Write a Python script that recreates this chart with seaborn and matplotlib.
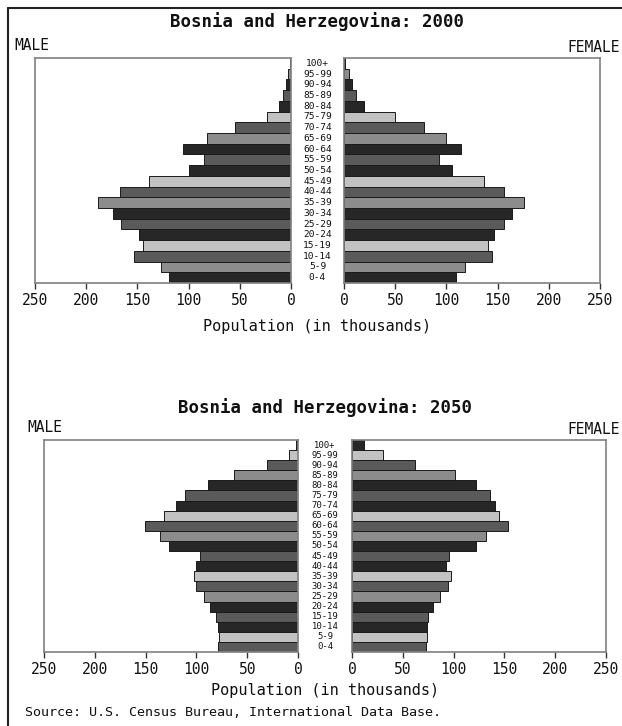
import numpy as np
import pandas as pd
import matplotlib
matplotlib.use("Agg")
import matplotlib.pyplot as plt
import seaborn as sns
from matplotlib import transforms
from matplotlib.lines import Line2D

# ---------------- data (thousands), ordered 0-4 -> 100+ ----------------
ages = ["0-4", "5-9", "10-14", "15-19", "20-24", "25-29", "30-34", "35-39",
        "40-44", "45-49", "50-54", "55-59", "60-64", "65-69", "70-74",
        "75-79", "80-84", "85-89", "90-94", "95-99", "100+"]

male_2000 = [119, 127, 153, 145, 148, 166, 174, 188, 167, 139, 100,
             85, 105, 82, 55, 23, 12, 8, 5, 2.5, 1]
female_2000 = [109, 118, 145, 141, 146, 156, 164, 176, 156, 137, 105,
               93, 114, 100, 78, 50, 20, 12, 7.5, 4.5, 1]

male_2050 = [79, 78, 79, 81, 87, 93, 100, 102, 100, 96, 127,
             136, 151, 132, 120, 111, 89, 63, 31, 9, 2]
female_2050 = [73, 74, 74, 75, 80, 87, 94, 97, 93, 95, 122,
               132, 154, 145, 141, 136, 122, 101, 62, 31, 12]

titles = ["Bosnia and Herzegovina: 2000", "Bosnia and Herzegovina: 2050"]
x_ticks = [0, 50, 100, 150, 200, 250]
x_label = "Population (in thousands)"
source = "Source: U.S. Census Bureau, International Data Base."

# ---------------- style ----------------
sns.set_theme(style="white")
plt.rcParams["font.family"] = ["DejaVu Sans Mono", "DejaVu Sans"]

DARK, LIGHT, MED, MEDLIGHT = "#272727", "#c2c2c2", "#5a5a5a", "#8c8c8c"
shade_cycle = [DARK, LIGHT, MED, MEDLIGHT, DARK, MED]  # top-down cycle

W, H = 622, 726
fig = plt.figure(figsize=(W / 100, H / 100), dpi=100)


def fx(px):
    return px / W


def fy(py):
    return 1 - py / H


panels = [
    dict(male=male_2000, female=female_2000, title=titles[0], offset=2,
         lx=(35, 291), rx=(344, 600), y=(58, 283), title_y=22,
         male_pos=(14, 45), female_pos=(620, 48), xlabel_y=326, age_fs=6.8),
    dict(male=male_2050, female=female_2050, title=titles[1], offset=0,
         lx=(44, 298), rx=(352, 606), y=(440, 652), title_y=408,
         male_pos=(27, 428), female_pos=(620, 430), xlabel_y=690, age_fs=6.4),
]

order = ages[::-1]

for p in panels:
    y0, y1 = p["y"]
    axL = fig.add_axes([fx(p["lx"][0]), fy(y1), fx(p["lx"][1] - p["lx"][0]), (y1 - y0) / H])
    axR = fig.add_axes([fx(p["rx"][0]), fy(y1), fx(p["rx"][1] - p["rx"][0]), (y1 - y0) / H])
    pal = {a: shade_cycle[(i + p["offset"]) % 6] for i, a in enumerate(order)}

    for ax, vals, side in [(axL, p["male"], "L"), (axR, p["female"], "R")]:
        df = pd.DataFrame({"age": ages, "pop": vals})
        sns.barplot(data=df, x="pop", y="age", hue="age", order=order,
                    hue_order=order, palette=pal, legend=False, orient="h",
                    width=1.0, saturation=1, edgecolor="#1a1a1a",
                    linewidth=0.7, ax=ax)
        ax.set_ylim(20.5, -0.5)
        ax.set_yticks([])
        ax.set_ylabel("")
        ax.set_xlabel("")
        if side == "L":
            ax.set_xlim(250, 0)
        else:
            ax.set_xlim(0, 250)
        ax.set_xticks(x_ticks)
        ax.set_xticklabels([str(t) for t in x_ticks])
        ax.tick_params(axis="x", bottom=True, length=4, width=1,
                       direction="out", labelsize=10.5, pad=3,
                       color="#333333", labelcolor="#111111")
        for s in ax.spines.values():
            s.set_color("#808080")
            s.set_linewidth(1.2)
            s.set_visible(True)
        ax.set_facecolor("white")

    # age labels between the halves
    xc = fx((p["lx"][1] + p["rx"][0]) / 2)
    trans = transforms.blended_transform_factory(fig.transFigure, axL.transData)
    for i, a in enumerate(order):
        axL.text(xc, i, a, transform=trans, ha="center", va="center",
                 fontsize=p["age_fs"], color="#111111")

    fig.text(fx((p["lx"][0] + p["rx"][1]) / 2), fy(p["title_y"]), p["title"],
             ha="center", va="center", fontsize=12.5, fontweight="bold",
             color="#111111")
    fig.text(fx(p["male_pos"][0]), fy(p["male_pos"][1]), "MALE",
             ha="left", va="center", fontsize=10.5, color="#111111")
    fig.text(fx(p["female_pos"][0]), fy(p["female_pos"][1]), "FEMALE",
             ha="right", va="center", fontsize=10.5, color="#111111")
    fig.text(fx((p["lx"][1] + p["rx"][0]) / 2), fy(p["xlabel_y"]), x_label,
             ha="center", va="center", fontsize=11, color="#111111")

fig.text(fx(25), fy(713), source, ha="left", va="center", fontsize=9.6,
         color="#111111")

# outer frame lines (top and left)
fig.add_artist(Line2D([fx(8), 1], [fy(8), fy(8)], transform=fig.transFigure,
                      color="#222222", linewidth=1.5))
fig.add_artist(Line2D([fx(8), fx(8)], [fy(8), 0], transform=fig.transFigure,
                      color="#222222", linewidth=1.5))

fig.savefig("out.png", dpi=100, facecolor="white")
